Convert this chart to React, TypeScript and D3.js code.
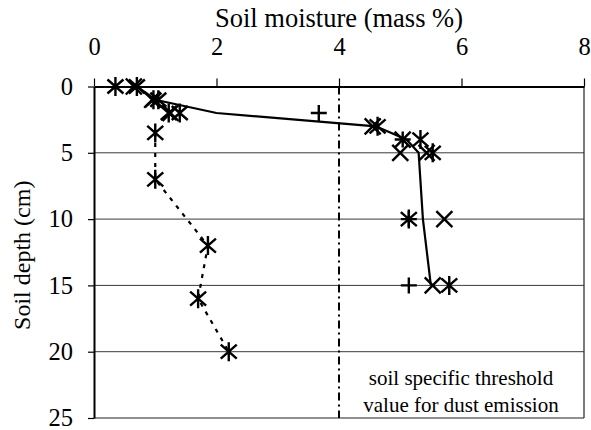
import { useEffect, useRef } from 'react';
import * as d3 from 'd3';

const xTicks = [0, 2, 4, 6, 8];
const yTicks = [0, 5, 10, 15, 20, 25];
const gridDepths = [5, 10, 15, 20];

// mean profile, solid line
const meanDepth = [0, 1, 2, 3, 4, 5, 10, 15];
const meanMoisture = [0.7, 1.0, 2.0, 4.6, 5.1, 5.3, 5.37, 5.5];

// dry profile, dotted line from 3.5 cm down
const dryDepth = [0, 1, 2, 3.5, 7, 12, 16, 20];
const dryMoisture = [0.35, 0.97, 1.22, 1.0, 1.0, 1.86, 1.7, 2.2];
const dryLineStart = 3;

// other single measurements
const starDepth = [0, 1, 2, 3, 4, 5, 10, 15];
const starMoisture = [0.7, 1.05, 1.4, 4.63, 5.33, 5.53, 5.14, 5.8];

const crossDepth = [0, 1, 2, 3, 4, 5, 5, 10, 15];
const crossMoisture = [0.65, 0.95, 1.25, 4.55, 5.04, 5.0, 5.43, 5.72, 5.53];

const plusDepth = [2, 4, 10, 15];
const plusMoisture = [3.67, 5.04, 5.14, 5.14];

const threshold = 4;

const FONT = "'Liberation Serif'";

const App = () => {
    const svgRef = useRef<SVGSVGElement>(null);

    useEffect(() => {
        const w = 591;
        const h = 430;
        const svg = d3.select(svgRef.current);
        svg.selectAll('*').remove();
        svg.attr('width', w).attr('height', h);

        const x = d3.scaleLinear().domain([0, 8]).range([94, 584]);
        const y = d3.scaleLinear().domain([0, 25]).range([86.5, 418]);

        // gridlines
        svg.append('g')
            .selectAll('line')
            .data(gridDepths)
            .enter().append('line')
            .attr('x1', x(0)).attr('x2', x(8))
            .attr('y1', d => y(d)).attr('y2', d => y(d))
            .attr('stroke', '#3a3a3a')
            .attr('stroke-width', 1);

        // frame right + bottom
        svg.append('line')
            .attr('x1', x(8)).attr('x2', x(8))
            .attr('y1', y(0)).attr('y2', y(25))
            .attr('stroke', '#222').attr('stroke-width', 1.2);
        svg.append('line')
            .attr('x1', x(0)).attr('x2', x(8))
            .attr('y1', y(25)).attr('y2', y(25))
            .attr('stroke', '#222').attr('stroke-width', 1.2);

        // threshold dash-dot line
        svg.append('line')
            .attr('x1', x(threshold)).attr('x2', x(threshold))
            .attr('y1', y(0)).attr('y2', y(25))
            .attr('stroke', '#000')
            .attr('stroke-width', 2)
            .attr('stroke-dasharray', '8,4,2,4');

        // axes
        const xAxis = svg.append('g')
            .attr('transform', `translate(0, ${y(0)})`)
            .call(d3.axisTop(x).tickValues(xTicks).tickSize(8).tickSizeOuter(0).tickPadding(24).tickFormat(d3.format('d')));
        const yAxis = svg.append('g')
            .attr('transform', `translate(${x(0)}, 0)`)
            .call(d3.axisLeft(y).tickValues(yTicks).tickSize(6).tickSizeOuter(0).tickPadding(15).tickFormat(d3.format('d')));

        [xAxis, yAxis].forEach(a => {
            a.select('.domain').attr('stroke', '#000').attr('stroke-width', 2);
            a.selectAll('.tick line').attr('stroke', '#000').attr('stroke-width', 1.2);
            a.selectAll('text')
                .attr('fill', '#000')
                .style('font-family', FONT)
                .style('font-size', '24.5px');
        });

        // mean line
        const line = d3.line<[number, number]>()
            .x(d => x(d[0]))
            .y(d => y(d[1]));

        const meanPts = meanMoisture.map((m, i) => [m, meanDepth[i]] as [number, number]);
        svg.append('path')
            .attr('d', line(meanPts))
            .attr('fill', 'none')
            .attr('stroke', '#000')
            .attr('stroke-width', 2.2);

        const dryPts = dryMoisture.map((m, i) => [m, dryDepth[i]] as [number, number]);
        svg.append('path')
            .attr('d', line(dryPts.slice(dryLineStart)))
            .attr('fill', 'none')
            .attr('stroke', '#000')
            .attr('stroke-width', 2.2)
            .attr('stroke-dasharray', '4,6');

        // markers
        const s = 8;
        const crossPath = (cx: number, cy: number) =>
            `M${cx - s},${cy - s}L${cx + s},${cy + s}M${cx - s},${cy + s}L${cx + s},${cy - s}`;
        const starPath = (cx: number, cy: number) =>
            `M${cx - 8},${cy - 7}L${cx + 8},${cy + 7}M${cx - 8},${cy + 7}L${cx + 8},${cy - 7}M${cx},${cy - 9.5}L${cx},${cy + 9.5}`;
        const plusPath = (cx: number, cy: number) =>
            `M${cx - 8},${cy}L${cx + 8},${cy}M${cx},${cy - 8}L${cx},${cy + 8}`;

        const drawMarks = (vals: number[], depths: number[], fn: (a: number, b: number) => string) => {
            svg.append('g')
                .selectAll('path')
                .data(vals.map((v, i) => [v, depths[i]]))
                .enter().append('path')
                .attr('d', d => fn(x(d[0]), y(d[1])))
                .attr('fill', 'none')
                .attr('stroke', '#000')
                .attr('stroke-width', 2.4);
        };
        drawMarks(dryMoisture, dryDepth, starPath);
        drawMarks(starMoisture, starDepth, starPath);
        drawMarks(crossMoisture, crossDepth, crossPath);
        drawMarks(plusMoisture, plusDepth, plusPath);

        // titles
        svg.append('text')
            .attr('x', x(4))
            .attr('y', 27)
            .attr('text-anchor', 'middle')
            .style('font-family', FONT)
            .style('font-size', '26.5px')
            .text('Soil moisture (mass %)');

        svg.append('text')
            .attr('transform', `translate(30, ${(y(0) + y(25)) / 2 + 3}) rotate(-90)`)
            .attr('text-anchor', 'middle')
            .style('font-family', FONT)
            .style('font-size', '24px')
            .text('Soil depth (cm)');

        // annotation
        const note = svg.append('text')
            .attr('text-anchor', 'middle')
            .style('font-family', FONT)
            .style('font-size', '21px');
        note.append('tspan').attr('x', 461).attr('y', 385).text('soil specific threshold');
        note.append('tspan').attr('x', 461).attr('y', 412).text('value for dust emission');
    }, []);

    return (
        <svg ref={svgRef} style={{ position: 'absolute', left: 0, top: 0 }}></svg>
    );
};

export default App;
